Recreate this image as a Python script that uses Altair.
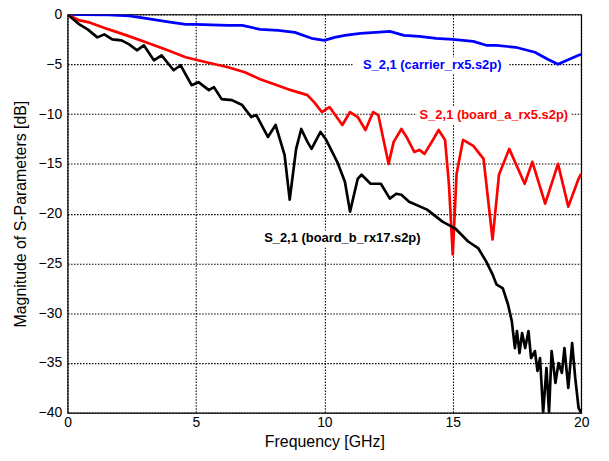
import altair as alt
import pandas as pd

# carrier_rx5 (blue)
blue_f = [0, 0.5, 1.6, 2.4, 2.8, 3.55, 4.05, 4.6, 5.0, 5.6, 6.25, 6.8, 7.5, 8.2, 8.85, 9.5, 10.0, 10.4, 10.8, 11.4, 12.0, 12.55, 13.1, 13.7, 14.35, 15.0, 15.8, 16.3, 16.7, 17.45, 18.2, 18.7, 19.1, 19.45, 19.9, 20.0]
blue_db = [0, -0.02, -0.05, -0.15, -0.3, -0.6, -0.8, -1.0, -1.0, -1.05, -1.1, -1.1, -1.5, -1.6, -1.8, -2.4, -2.6, -2.3, -2.1, -1.9, -1.8, -1.7, -2.1, -2.2, -2.4, -2.5, -2.7, -3.1, -3.1, -3.3, -3.8, -4.5, -5.0, -4.6, -4.1, -4.0]

# board_a_rx5 (red)
red_f = [0, 0.46, 0.85, 1.6, 2.3, 3.05, 3.9, 4.6, 5.4, 6.25, 6.9, 7.5, 8.05, 8.7, 9.34, 9.6, 9.9, 10.2, 10.7, 11.0, 11.3, 11.6, 11.9, 12.1, 12.5, 12.7, 13.0, 13.2, 13.5, 13.7, 13.9, 14.25, 14.45, 14.7, 14.85, 15.0, 15.15, 15.4, 15.8, 16.2, 16.55, 16.8, 17.2, 17.8, 18.1, 18.6, 19.1, 19.5, 19.9, 20.0]
red_db = [0, -0.6, -0.8, -1.5, -2.1, -2.8, -3.6, -4.3, -4.8, -5.3, -5.8, -6.5, -7.0, -7.6, -8.1, -8.8, -9.8, -9.3, -11.1, -9.8, -10.3, -11.6, -9.8, -10.1, -15.0, -12.8, -11.5, -12.3, -13.8, -13.6, -14.0, -12.5, -11.6, -12.6, -17.0, -24.1, -16.0, -12.6, -13.2, -14.5, -22.6, -16.1, -13.5, -17.0, -14.8, -19.0, -15.0, -19.3, -16.5, -16.0]

# board_b_rx17 (black)
black_f = [0, 0.46, 0.78, 1.16, 1.43, 1.74, 2.1, 2.4, 2.7, 2.97, 3.36, 3.66, 4.13, 4.4, 4.83, 5.1, 5.5, 5.7, 6.0, 6.4, 6.8, 7.15, 7.35, 7.8, 8.1, 8.45, 8.65, 8.9, 9.1, 9.34, 9.5, 9.85, 10.05, 10.5, 10.8, 11.0, 11.3, 11.45, 11.8, 12.2, 12.55, 12.8, 13.0, 13.3, 14.0, 14.6, 15.1, 15.6, 16.0, 16.3, 16.55, 16.7, 16.95, 17.15, 17.3, 17.42, 17.5, 17.6, 17.7, 17.82, 17.95, 18.05, 18.2, 18.3, 18.4, 18.52, 18.65, 18.75, 18.85, 19.0, 19.12, 19.25, 19.35, 19.5, 19.65, 19.77, 19.9, 20.0]
black_db = [0, -1.0, -1.5, -2.3, -2.0, -2.5, -2.6, -3.0, -3.6, -3.1, -4.6, -4.1, -5.6, -5.1, -7.1, -6.8, -7.6, -7.3, -8.5, -8.6, -9.1, -10.3, -10.1, -12.3, -11.1, -14.1, -18.6, -13.5, -11.5, -12.8, -13.5, -11.8, -12.5, -14.8, -16.8, -19.8, -16.5, -16.1, -17.0, -17.0, -18.5, -18.0, -18.1, -18.8, -19.6, -20.8, -21.5, -22.8, -23.5, -24.8, -26.1, -27.1, -27.5, -29.1, -30.8, -33.5, -31.8, -34.0, -32.0, -33.5, -31.8, -34.5, -33.8, -35.8, -34.5, -40.0, -35.5, -40.0, -33.8, -37.0, -35.0, -36.0, -33.5, -37.5, -33.0, -36.5, -39.5, -40.0]

label_text = ["S_2,1 (carrier_rx5.s2p)", "S_2,1 (board_a_rx5.s2p)", "S_2,1 (board_b_rx17.s2p)"]
label_f = [14.2, 16.6, 10.7]
label_db = [-5.1, -10.1, -22.5]
label_color = ["#0000FF", "#FF0000", "#000000"]
box_f1 = [11.1, 13.6, 7.5]
box_f2 = [17.2, 19.6, 13.9]
box_db1 = [-4.3, -9.3, -21.7]
box_db2 = [-6.0, -11.0, -23.4]

series = (
    [("carrier", f, d, i) for i, (f, d) in enumerate(zip(blue_f, blue_db))]
    + [("board_a", f, d, i) for i, (f, d) in enumerate(zip(red_f, red_db))]
    + [("board_b", f, d, i) for i, (f, d) in enumerate(zip(black_f, black_db))]
)
df = pd.DataFrame(series, columns=["s", "f", "db", "o"])
lab = pd.DataFrame({"t": label_text, "f": label_f, "db": label_db, "c": label_color,
                    "f1": box_f1, "f2": box_f2, "d1": box_db1, "d2": box_db2})

xs = alt.Scale(domain=[0, 20], nice=False)
ys = alt.Scale(domain=[-40, 0], nice=False)

xax = alt.Axis(values=[0, 5, 10, 15, 20], title="Frequency [GHz]", grid=True)
yax = alt.Axis(values=list(range(-40, 1, 5)), title="Magnitude of S-Parameters [dB]", grid=True)

boxes = alt.Chart(lab).mark_rect(color="white").encode(
    x=alt.X("f1:Q", scale=xs, axis=xax), x2="f2:Q",
    y=alt.Y("d1:Q", scale=ys, axis=yax), y2="d2:Q",
)

lines = alt.Chart(df).mark_line(strokeWidth=2.7, clip=True, strokeJoin="round").encode(
    x=alt.X("f:Q", scale=xs),
    y=alt.Y("db:Q", scale=ys),
    color=alt.Color("s:N", scale=alt.Scale(domain=["carrier", "board_a", "board_b"],
                                           range=["#0000FF", "#FF0000", "#000000"]), legend=None),
    order="o:Q",
)

texts = alt.Chart(lab).mark_text(font="Liberation Sans", fontWeight="bold", fontSize=13).encode(
    x=alt.X("f:Q", scale=xs), y=alt.Y("db:Q", scale=ys), text="t:N",
    color=alt.Color("c:N", scale=None),
)

chart = alt.layer(boxes, lines, texts).properties(
    width=517, height=401,
    autosize=alt.AutoSizeParams(type="none"),
    padding={"left": 60, "top": 5, "right": 20, "bottom": 40},
).configure_view(stroke="black", strokeWidth=1.2).configure_axis(
    gridColor="black", gridDash=[1.5, 1.5], gridOpacity=1, gridWidth=1.1,
    domain=False, ticks=False, labelFlush=False,
    labelFont="Liberation Sans", labelFontSize=14, labelColor="black",
    titleFont="Liberation Sans", titleFontSize=16, titleFontWeight="normal", titleColor="black",
).configure_axisX(labelPadding=3, titlePadding=4).configure_axisY(labelPadding=6, titlePadding=10)

chart.save("out.html", embed_options={"renderer": "svg", "actions": False})
